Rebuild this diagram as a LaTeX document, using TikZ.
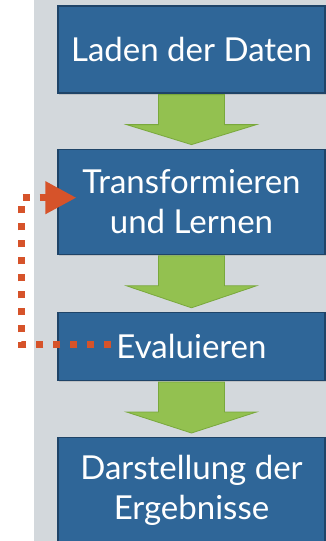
\documentclass[tikz,border=0pt]{standalone}
\usepackage{fontspec}
\setmainfont{Lato}
\usetikzlibrary{positioning, calc, arrows.meta, shadows}

\definecolor{boxblue}{HTML}{2F6698}
\definecolor{boxedge}{HTML}{1F4468}
\definecolor{arrowgreen}{HTML}{93C150}
\definecolor{arrowedge}{HTML}{79A83C}
\definecolor{loopred}{HTML}{D6532A}
\definecolor{paper}{HTML}{D3D8DC}

\tikzset{
  stepbox/.style={draw=boxedge, fill=boxblue, line width=1.2pt, text=white,
    minimum width=267pt, align=center, inner sep=0pt,
    font=\fontsize{33}{40}\selectfont,
    drop shadow={opacity=0.25, shadow xshift=1pt, shadow yshift=-2pt}},
  greenarrow/.style={fill=arrowgreen, draw=arrowedge, line width=0.8pt, line join=miter},
  loopline/.style={draw=loopred, line width=7pt, dash pattern=on 7pt off 10pt,
    -{Triangle[length=31pt, width=31pt]}}
}

% green block arrow from the bottom of #1 to the top of #2
\newcommand{\flowarrow}[2]{%
  \draw[greenarrow] ($(#1.south)+(-33,1)$) -- ($(#1.south)+(-33,31)$)
    -- ($(#1.south)+(-65,31)$) -- ($(#2.north)+(0,-4)$)
    -- ($(#1.south)+(65,31)$) -- ($(#1.south)+(33,31)$)
    -- ($(#1.south)+(33,1)$) -- cycle;}

\begin{document}
\begin{tikzpicture}[x=1pt, y=-1pt]
        \useasboundingbox (0,0) rectangle (326,541);
        % ----------------------------------------------------
        % Background
        % ----------------------------------------------------
        \fill[paper] (34,0) rectangle (326,541);

        % ----------------------------------------------------
        % Steps
        % ----------------------------------------------------
        \node[stepbox, minimum height=87pt] (load) at (191.5,49.5) {Laden der Daten};
        \node[stepbox, minimum height=105pt, below=55pt of load] (trans) {Transformieren\\und Lernen};
        \node[stepbox, minimum height=68pt, below=57pt of trans] (eval) {Evaluieren};
        \node[stepbox, minimum height=105pt, below=56pt of eval] (result) {Darstellung der\\Ergebnisse};

        % Arrows between steps
        \flowarrow{load}{trans}
        \flowarrow{trans}{eval}
        \flowarrow{eval}{result}

        % ----------------------------------------------------
        % Feedback loop
        % ----------------------------------------------------
        \coordinate (loopstart) at ($(eval.west)+(54,-2)$);
        \draw[loopline] (loopstart) -- ++(-90,0) |- ($(trans.west)+(19,-4)$);
    \end{tikzpicture}
\end{document}
